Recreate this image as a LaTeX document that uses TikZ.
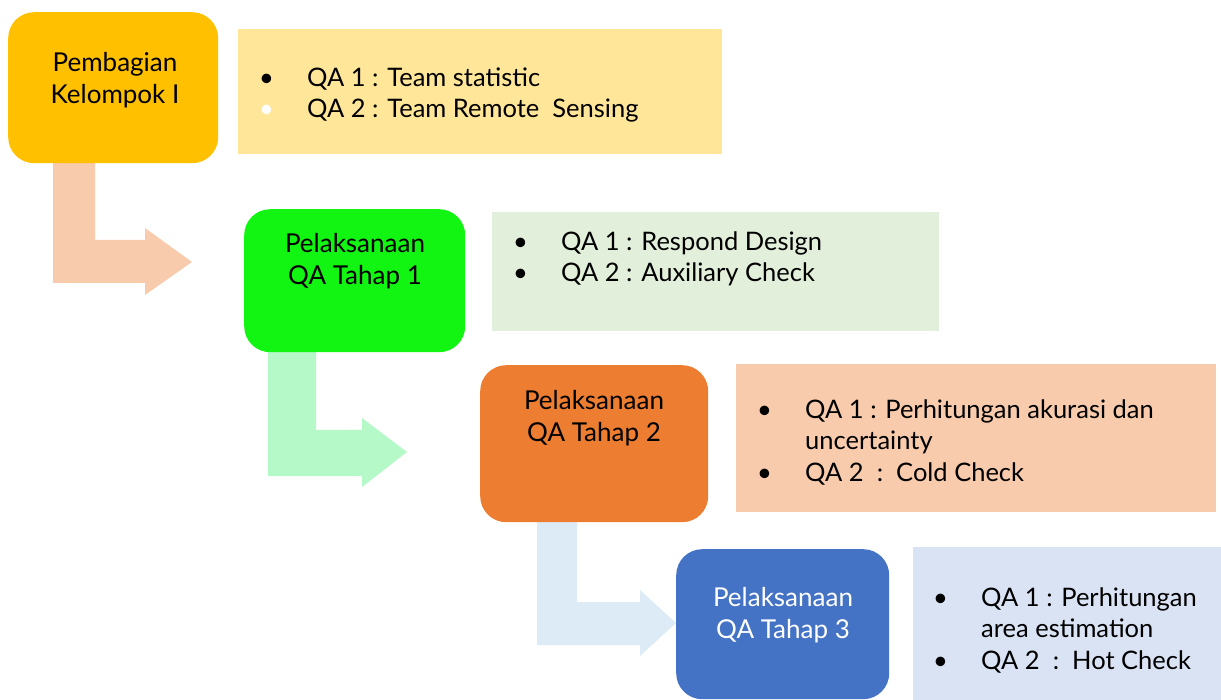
\documentclass[tikz,border=0pt]{standalone}
\usepackage{fontspec}
\setmainfont{Lato}
\definecolor{yel}{HTML}{FFC000}
\definecolor{yell}{HTML}{FFE699}
\definecolor{grn}{HTML}{12F512}
\definecolor{grnl}{HTML}{E2EFDA}
\definecolor{grna}{HTML}{B5F9C9}
\definecolor{org}{HTML}{ED7D31}
\definecolor{orgl}{HTML}{F8CBAD}
\definecolor{blu}{HTML}{4472C4}
\definecolor{blul}{HTML}{DAE3F3}
\definecolor{blua}{HTML}{DDEBF7}
\tikzset{box/.style={rectangle,rounded corners=26pt,anchor=north west,inner sep=0pt}}
\tikzset{info/.style={rectangle,anchor=north west,inner sep=0pt}}
\tikzset{t/.style={align=center,inner sep=0pt,font=\fontsize{26}{32.5}\selectfont}}
\tikzset{l/.style={anchor=north west,inner sep=0pt,font=\fontsize{25.5}{31.5}\selectfont}}
\newcommand{\bl}[1]{\begin{tabular}{@{}p{48pt}@{}l@{}}#1\end{tabular}}

\begin{document}
\begin{tikzpicture}[x=1pt,y=-1pt]
  \useasboundingbox (0,0) rectangle (1221,700);
  \fill[orgl] (53,163) -- (95,163) -- (95,240) -- (145,240) -- (145,228) -- (192,262)
    -- (145,295) -- (145,283) -- (53,283) -- cycle;
  \fill[grna] (268,352) -- (316,352) -- (316,430) -- (362,430) -- (362,418) -- (407,452)
    -- (362,487) -- (362,476) -- (268,476) -- cycle;
  \fill[blua] (537,522) -- (577,522) -- (577,602) -- (640,602) -- (640,590) -- (676,623)
    -- (640,656) -- (640,645) -- (537,645) -- cycle;
  \node[box,fill=yel,minimum width=210pt,minimum height=151pt] (B1) at (8,12) {};
  \node[box,fill=grn,minimum width=221pt,minimum height=143pt] (B2) at (244,209) {};
  \node[box,fill=org,minimum width=228pt,minimum height=157pt] (B3) at (480,365) {};
  \node[box,fill=blu,minimum width=213pt,minimum height=150pt] (B4) at (676,549) {};
  \node[info,fill=yell,minimum width=484pt,minimum height=125pt] (I1) at (238,29) {};
  \node[info,fill=grnl,minimum width=447pt,minimum height=119pt] (I2) at (492,212) {};
  \node[info,fill=orgl,minimum width=480pt,minimum height=148pt] (I3) at (736,364) {};
  \node[info,fill=blul,minimum width=308pt,minimum height=153pt] (I4) at (913,547) {};
  \node[t] (T1) at (115,80) {Pembagian\\Kelompok I};
  \node[t] (T2) at (355,261) {Pelaksanaan\\QA Tahap 1};
  \node[t] (T3) at (594,418) {Pelaksanaan\\QA Tahap 2};
  \node[t,white] (T4) at (783,615) {Pelaksanaan\\QA Tahap 3};
  \node[l] (L1) at (259,64) {\bl{\textbullet & QA 1 : Team statistic\\
    \textcolor{white}{\textbullet} & QA 2 : Team Remote\ \ Sensing}};
  \node[l] (L2) at (513,228) {\bl{\textbullet & QA 1 : Respond Design\\
    \textbullet & QA 2 : Auxiliary Check}};
  \node[l] (L3) at (757,396) {\bl{\textbullet & QA 1 : Perhitungan akurasi dan\\
    & uncertainty\\ \textbullet & QA 2\ \ :\ \ Cold Check}};
  \node[l] (L4) at (933,584) {\bl{\textbullet & QA 1 : Perhitungan\\
    & area estimation\\ \textbullet & QA 2\ \ :\ \ Hot Check}};
\end{tikzpicture}
\end{document}
